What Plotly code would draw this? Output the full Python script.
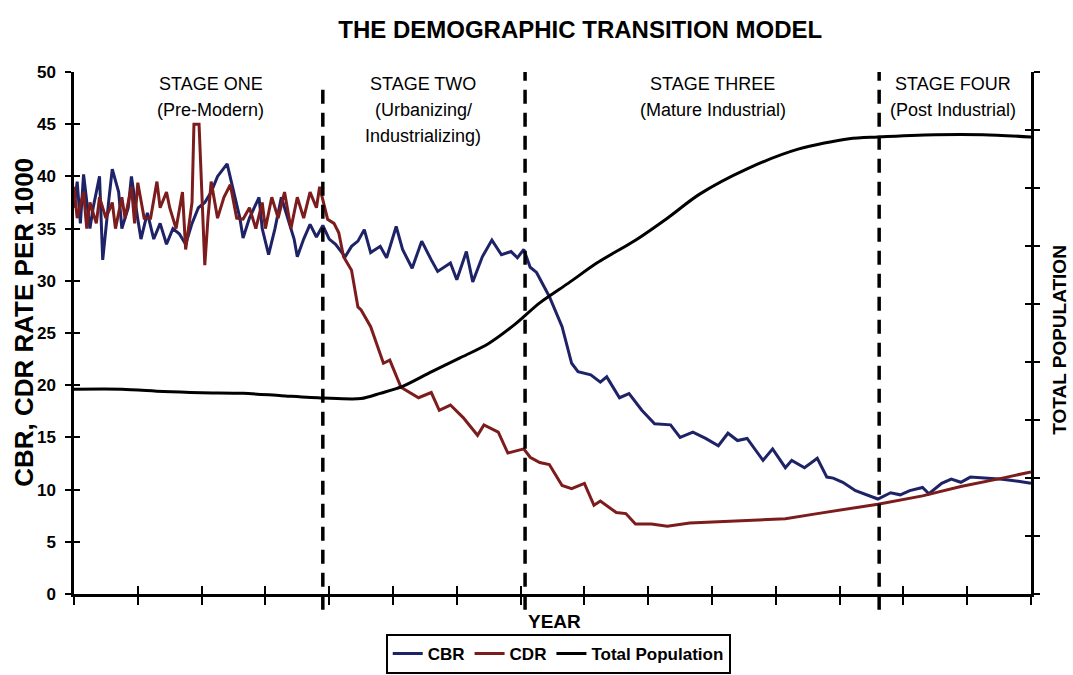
import plotly.graph_objects as go

# ---------------- data ----------------
cbr_year = [1700, 1701, 1702, 1703, 1705, 1706, 1708, 1709, 1711, 1712, 1714, 1715, 1717, 1718,
            1720, 1721, 1723, 1725, 1727, 1729, 1731, 1733, 1735, 1737, 1739, 1741, 1743, 1745,
            1748, 1750, 1752, 1753, 1755, 1758, 1759, 1761, 1763, 1765, 1767, 1769, 1770, 1772,
            1774, 1776, 1778,
            1780, 1782, 1785, 1787, 1789, 1791, 1793, 1796, 1798, 1801, 1803, 1806, 1809, 1812,
            1814, 1818, 1820, 1823, 1825, 1828, 1831, 1834, 1837, 1839, 1841,
            1843, 1845, 1849, 1853, 1856, 1858, 1862, 1865, 1867, 1871, 1874, 1878, 1882, 1887,
            1890, 1894, 1898, 1902, 1905, 1908, 1911, 1916, 1919, 1923, 1925, 1929, 1933, 1936,
            1938, 1941, 1945, 1949, 1952,
            1956, 1959, 1962, 1966, 1968, 1972, 1975, 1978, 1981, 1985, 1991, 1996, 2000]
cbr = [37, 39.5, 35.5, 40.2, 35, 37, 40, 32, 38, 40.7, 38.5, 35, 37, 40,
       35.9, 34, 36.5, 34, 35.5, 33.5, 35, 34.5, 33.5, 35.5, 37, 37.5, 38.5, 40,
       41.2, 38.5, 36, 34.1, 36, 38, 35, 32.5, 35, 38, 36, 34, 32.3, 34,
       35.4, 34.2, 35.3,
       34, 33.5, 32.3, 33.3, 33.8, 34.9, 32.7, 33.3, 32.2, 35.2, 33, 31.2, 33.8, 32,
       30.9, 31.7, 30.1, 32.8, 29.9, 32.3, 33.9, 32.5, 32.8, 32.2, 33,
       31.3, 30.8, 28.5, 25.6, 22.1, 21.3, 21, 20.3, 20.8, 18.8, 19.2, 17.6, 16.3, 16.2,
       15, 15.5, 14.9, 14.2, 15.4, 14.7, 14.9, 12.8, 13.9, 12.1, 12.8, 12.1, 13, 11.2,
       11.1, 10.7, 9.9, 9.4, 9.1,
       9.7, 9.5, 9.9, 10.2, 9.6, 10.6, 11, 10.7, 11.2, 11.1, 11, 10.8, 10.6]

cdr_year = [1700, 1701, 1703, 1704, 1705, 1707, 1708, 1710, 1712, 1713, 1715, 1716, 1718, 1719,
            1720, 1722, 1724, 1726, 1727, 1729, 1730, 1732, 1734, 1735, 1737, 1737.6, 1739.2,
            1741, 1742, 1743, 1745, 1747, 1749, 1751, 1753, 1755, 1757, 1759, 1760, 1762, 1764,
            1766, 1768, 1770, 1772, 1774, 1776, 1777,
            1779.5, 1781.5, 1783, 1784.5, 1787, 1789, 1790, 1793, 1797, 1799, 1802.5, 1808, 1812,
            1814.5, 1818, 1822, 1826.5, 1828.5, 1833, 1836, 1841, 1843, 1846,
            1849, 1853, 1856, 1860, 1863, 1865, 1870, 1873, 1876, 1881, 1886, 1893, 1907, 1923,
            1933, 1944, 1952, 1966, 1978, 1991, 2000]
cdr = [39, 36, 38.5, 35, 37.5, 35.5, 38, 36, 37.5, 35, 38, 36, 39, 35.5,
       39.4, 36, 36, 39.5, 37, 38.5, 37, 35, 38.5, 33, 37.5, 45, 45,
       31.5, 36, 39.5, 36, 38, 39.2, 36, 35.9, 37, 35, 37.5, 35, 38, 36,
       38.5, 35, 38, 36, 38.5, 37, 39,
       35.9, 35.5, 34.6, 32.3, 31, 27.5, 27.2, 25.6, 22.1, 22.4, 19.8, 18.8, 19.3,
       17.6, 18.1, 16.9, 15.2, 16.2, 15.5, 13.5, 13.9, 13.1, 12.6,
       12.4, 10.4, 10.1, 10.6, 8.5, 8.9, 7.8, 7.7, 6.7, 6.7, 6.5, 6.8, 7.0, 7.2,
       7.7, 8.2, 8.6, 9.4, 10.3, 11.1, 11.7]

pop_year = [1700, 1715, 1728, 1740, 1753, 1765, 1778, 1790, 1796, 1803, 1812, 1821, 1830, 1838,
            1846, 1855, 1864, 1876, 1886, 1896, 1911, 1927, 1943, 1952, 1970, 1985, 2000]
population = [3.53, 3.53, 3.49, 3.47, 3.46, 3.42, 3.38, 3.37, 3.46, 3.58, 3.83, 4.07, 4.32, 4.64,
              5.02, 5.36, 5.71, 6.10, 6.48, 6.89, 7.33, 7.67, 7.85, 7.88, 7.92, 7.92, 7.88]

stage_bounds = [1778, 1841.4, 1952.4]
stage_lines = [["STAGE ONE", "(Pre-Modern)"],
               ["STAGE TWO", "(Urbanizing/", "Industrializing)"],
               ["STAGE THREE", "(Mature Industrial)"],
               ["STAGE FOUR", "(Post Industrial)"]]
stage_label_x = [1742.9, 1809.5, 1900.3, 1975.4]

FONT = "Liberation Sans, Arial, sans-serif"
CBR_COLOR = "#1e2266"
CDR_COLOR = "#7d1c1c"

fig = go.Figure()
fig.add_trace(go.Scatter(x=cbr_year, y=cbr, name="CBR", mode="lines",
                         line=dict(color=CBR_COLOR, width=3)))
fig.add_trace(go.Scatter(x=cdr_year, y=cdr, name="CDR", mode="lines",
                         line=dict(color=CDR_COLOR, width=3)))
fig.add_trace(go.Scatter(x=pop_year, y=population, name="Total Population", mode="lines",
                         yaxis="y2",
                         line=dict(color="black", width=3, shape="spline", smoothing=0.8)))
# empty helper traces so the tick-mirroring axes exist
fig.add_trace(go.Scatter(x=[None], y=[None], xaxis="x2", yaxis="y3", showlegend=False,
                         hoverinfo="skip"))
fig.add_trace(go.Scatter(x=[None], y=[None], xaxis="x", yaxis="y4", showlegend=False,
                         hoverinfo="skip"))

for b, ytop in zip(stage_bounds, [0.98, 1.0, 1.0]):
    fig.add_shape(type="line", xref="x", yref="paper", x0=b, x1=b, y0=-0.03, y1=ytop,
                  line=dict(color="black", width=3.5, dash="14px,9px"))

annotations = []
PLOT_TOP, PLOT_H = 72, 522
for lines, xx in zip(stage_lines, stage_label_x):
    for i, line in enumerate(lines):
        ypix = 84 + 26 * i
        annotations.append(dict(text=line, x=xx, xref="x",
                                y=1 - (ypix - PLOT_TOP) / PLOT_H, yref="paper",
                                xanchor="center", yanchor="middle", showarrow=False,
                                font=dict(family=FONT, size=18, color="black")))
annotations.append(dict(text="CBR, CDR RATE PER 1000", x=-0.053, xref="paper", y=0.52,
                        yref="paper", textangle=-90, showarrow=False,
                        xanchor="center", yanchor="middle",
                        font=dict(family=FONT, size=26, color="black", weight="bold")))
annotations.append(dict(text="TOTAL POPULATION", x=1.0303, xref="paper", y=0.487,
                        yref="paper", textangle=-90, showarrow=False,
                        xanchor="center", yanchor="middle",
                        font=dict(family=FONT, size=19, color="black", weight="bold")))
annotations.append(dict(text="YEAR", x=0.502, xref="paper", y=-0.052, yref="paper",
                        showarrow=False, xanchor="center", yanchor="middle",
                        font=dict(family=FONT, size=19, color="black", weight="bold")))

common_x = dict(range=[1700, 2000], tick0=1700, dtick=20, showticklabels=False,
                showgrid=False, zeroline=False, tickcolor="black", tickwidth=2, ticklen=8)

fig.update_layout(
    width=1073, height=675,
    margin=dict(l=74, r=42, t=72, b=81, autoexpand=False),
    paper_bgcolor="white", plot_bgcolor="white",
    title=dict(text="THE DEMOGRAPHIC TRANSITION MODEL", x=0.529, xref="paper",
               y=1 - 30 / 675, yref="container", xanchor="center", yanchor="middle",
               font=dict(family=FONT, size=24, color="black", weight="bold")),
    xaxis=dict(**common_x, ticks="outside", showline=True, linecolor="black", linewidth=2.5),
    xaxis2=dict(**common_x, ticks="inside", overlaying="x", anchor="y", side="bottom",
                showline=False),
    yaxis=dict(range=[0, 50], dtick=5, ticks="outside", ticklen=6, tickwidth=2,
               tickcolor="black", showline=True, linecolor="black", linewidth=2.5,
               showgrid=False, zeroline=False, ticklabelstandoff=6,
               tickfont=dict(family=FONT, size=17, color="black", weight="bold")),
    yaxis3=dict(range=[0, 50], dtick=5, ticks="inside", ticklen=6, tickwidth=2,
                tickcolor="black", overlaying="y", anchor="x", side="left",
                showline=False, showgrid=False, zeroline=False, showticklabels=False),
    yaxis2=dict(range=[0, 9], dtick=1, ticks="outside", ticklen=6, tickwidth=2,
                tickcolor="black", overlaying="y", anchor="x", side="right",
                showline=True, linecolor="black", linewidth=2.5,
                showgrid=False, zeroline=False, showticklabels=False),
    yaxis4=dict(range=[0, 9], dtick=1, ticks="inside", ticklen=6, tickwidth=2,
                tickcolor="black", overlaying="y", anchor="x", side="right",
                showline=False, showgrid=False, zeroline=False, showticklabels=False),
    legend=dict(orientation="h", x=0.506, xanchor="center", y=-0.0766, yanchor="top",
                bordercolor="black", borderwidth=2, bgcolor="white",
                font=dict(family=FONT, size=17, color="black", weight="bold")),
    annotations=annotations,
    showlegend=True,
)

fig.write_html("out.html", config={"displayModeBar": False},
               post_script="document.body.style.margin='0';document.body.style.overflow='hidden';")
